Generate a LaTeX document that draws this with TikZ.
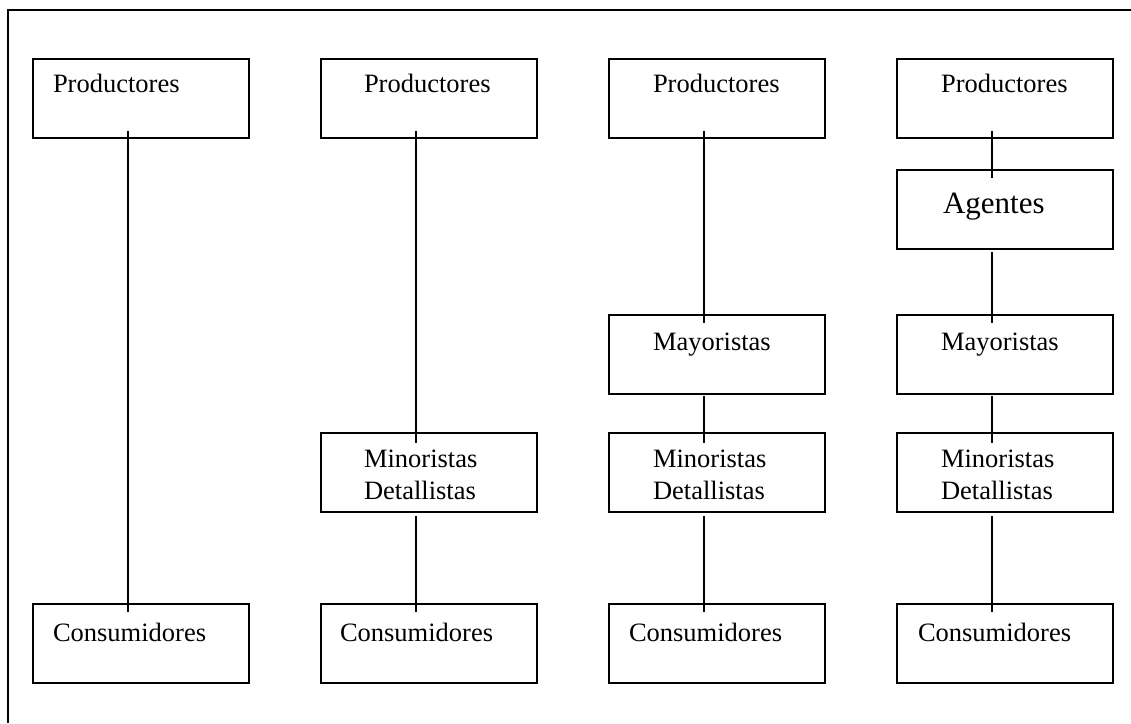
\documentclass[tikz,border=0pt]{standalone}
\usepackage{fontspec}
\setmainfont{Liberation Serif}
\begin{document}
\begin{tikzpicture}[x=1pt,y=-1pt,line width=2pt,
                caja/.style={draw,rectangle,minimum width=216pt,minimum height=79pt,inner sep=0pt,anchor=north west},
                txt/.style={anchor=base west,inner sep=0pt,align=left,font=\fontsize{26.5}{32}\selectfont}]
                \useasboundingbox (0,0) rectangle (1131,723);
                \draw (8,723) |- (1131,10);
                % cajas
                \node[caja] (P1) at (32,58) {};
                \node[caja] (P2) at (320,58) {};
                \node[caja] (P3) at (608,58) {};
                \node[caja] (P4) at (896,58) {};
                \node[caja] (A4) at (896,169) {};
                \node[caja] (May3) at (608,314) {};
                \node[caja] (May4) at (896,314) {};
                \node[caja] (Min2) at (320,432) {};
                \node[caja] (Min3) at (608,432) {};
                \node[caja] (Min4) at (896,432) {};
                \node[caja] (C1) at (32,603) {};
                \node[caja] (C2) at (320,603) {};
                \node[caja] (C3) at (608,603) {};
                \node[caja] (C4) at (896,603) {};
                % textos
                \node[txt] (tP1) at ([xshift=20pt,yshift=-34pt]P1.north west) {Productores};
                \node[txt] (tP2) at ([xshift=43pt,yshift=-34pt]P2.north west) {Productores};
                \node[txt] (tP3) at ([xshift=44pt,yshift=-34pt]P3.north west) {Productores};
                \node[txt] (tP4) at ([xshift=44pt,yshift=-34pt]P4.north west) {Productores};
                \node[txt,font=\fontsize{31}{36}\selectfont] (tA4) at ([xshift=46pt,yshift=-44pt]A4.north west) {Agentes};
                \node[txt] (tMay3) at ([xshift=44pt,yshift=-36pt]May3.north west) {Mayoristas};
                \node[txt] (tMay4) at ([xshift=44pt,yshift=-36pt]May4.north west) {Mayoristas};
                \node[txt] (tMin2) at ([xshift=43pt,yshift=-67pt]Min2.north west) {Minoristas\\Detallistas};
                \node[txt] (tMin3) at ([xshift=44pt,yshift=-67pt]Min3.north west) {Minoristas\\Detallistas};
                \node[txt] (tMin4) at ([xshift=44pt,yshift=-67pt]Min4.north west) {Minoristas\\Detallistas};
                \node[txt] (tC1) at ([xshift=20pt,yshift=-38pt]C1.north west) {Consumidores};
                \node[txt] (tC2) at ([xshift=19pt,yshift=-38pt]C2.north west) {Consumidores};
                \node[txt] (tC3) at ([xshift=20pt,yshift=-38pt]C3.north west) {Consumidores};
                \node[txt] (tC4) at ([xshift=21pt,yshift=-38pt]C4.north west) {Consumidores};
                % lineas
                \draw ([xshift=96pt,yshift=8pt]P1.south west) -- ([xshift=96pt,yshift=-9pt]C1.north west);
                \draw ([xshift=96pt,yshift=8pt]P2.south west) -- ([xshift=96pt,yshift=-11pt]Min2.north west);
                \draw ([xshift=96pt,yshift=-3pt]Min2.south west) -- ([xshift=96pt,yshift=-9pt]C2.north west);
                \draw ([xshift=96pt,yshift=8pt]P3.south west) -- ([xshift=96pt,yshift=-9pt]May3.north west);
                \draw ([xshift=96pt,yshift=-1pt]May3.south west) -- ([xshift=96pt,yshift=-11pt]Min3.north west);
                \draw ([xshift=96pt,yshift=-3pt]Min3.south west) -- ([xshift=96pt,yshift=-9pt]C3.north west);
                \draw ([xshift=96pt,yshift=8pt]P4.south west) -- ([xshift=96pt,yshift=-9pt]A4.north west);
                \draw ([xshift=96pt,yshift=-2pt]A4.south west) -- ([xshift=96pt,yshift=-9pt]May4.north west);
                \draw ([xshift=96pt,yshift=-1pt]May4.south west) -- ([xshift=96pt,yshift=-11pt]Min4.north west);
                \draw ([xshift=96pt,yshift=-3pt]Min4.south west) -- ([xshift=96pt,yshift=-9pt]C4.north west);
            \end{tikzpicture}
\end{document}
